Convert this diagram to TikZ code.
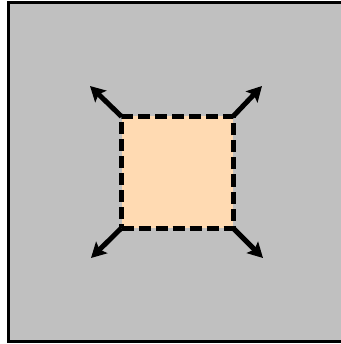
\documentclass[tikz,border=0pt]{standalone}
\usetikzlibrary{arrows.meta}
\definecolor{bggray}{RGB}{192,192,192}
\definecolor{peach}{RGB}{255,218,178}
\tikzset{
  frame/.style={draw=black, fill=bggray, line width=3pt},
  box/.style={draw=black, fill=peach, line width=5pt, dash pattern=on 12pt off 5pt, minimum width=111.5pt, minimum height=111.5pt, inner sep=0pt, outer sep=0pt},
  arr/.style={draw=black, line width=5pt, -{Stealth[length=15pt,width=16pt,inset=3pt]}}
}
\begin{document}
\begin{tikzpicture}[x=1pt,y=-1pt]
\useasboundingbox (0,0) rectangle (340,344);
\draw[frame] (8,3) rectangle (346,341);
\node[box] (sq) at (177.25,172.25) {};
\coordinate (tnw) at (90,86);
\coordinate (tne) at (262,86);
\coordinate (tsw) at (91,258);
\coordinate (tse) at (263,258);
\draw[arr] (sq.north west) -- (tnw);
\draw[arr] (sq.north east) -- (tne);
\draw[arr] (sq.south west) -- (tsw);
\draw[arr] (sq.south east) -- (tse);
\end{tikzpicture}
\end{document}
